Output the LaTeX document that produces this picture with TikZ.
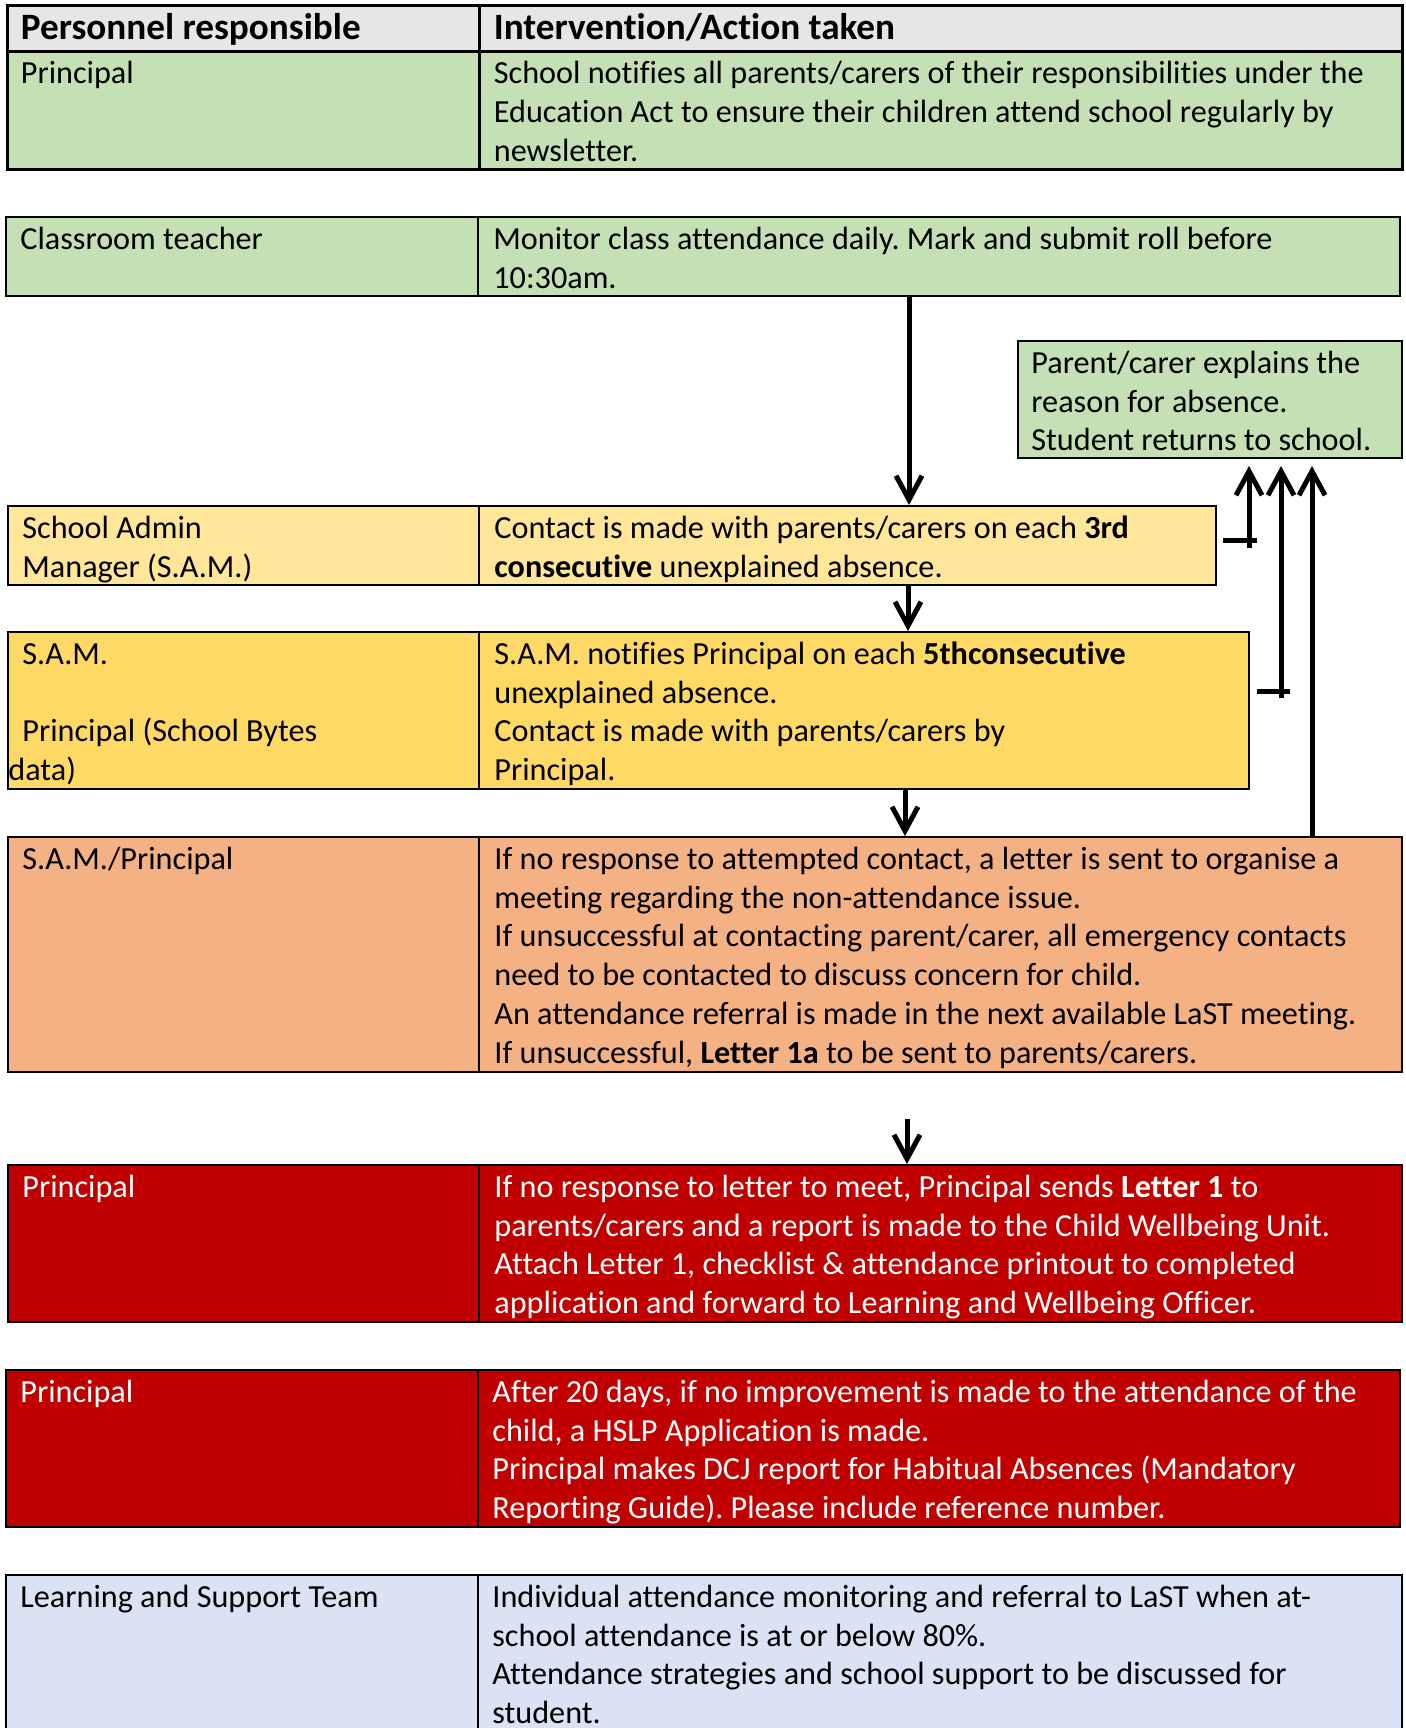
\documentclass[tikz,border=0pt]{standalone}
\usepackage{fontspec}
\setmainfont{Carlito}[Ligatures=NoCommon]
\usetikzlibrary{arrows.meta,fit}
\definecolor{hdgray}{HTML}{E7E6E6}
\definecolor{lgreen}{HTML}{C5E0B4}
\definecolor{lyellow}{HTML}{FFE699}
\definecolor{dyellow}{HTML}{FFD966}
\definecolor{lorange}{HTML}{F4B183}
\definecolor{dred}{HTML}{C00000}
\definecolor{lblue}{HTML}{DAE3F3}
\frenchspacing
\newcommand\cellrows[1]{\begin{tabular}[t]{@{}l@{}}#1\end{tabular}}

\begin{document}
\begin{tikzpicture}[x=0.5pt,y=-0.5pt,
  cell/.style={draw=black,line width=1pt,inner sep=0pt},
  txt/.style={anchor=base west,inner sep=0pt,font=\fontsize{16.1}{19.35}\selectfont},
  hdtxt/.style={txt,font=\fontsize{18.6}{22}\selectfont\bfseries},
  flow/.style={line width=2.5pt,-{Straight Barb[length=12pt,width=13pt]}},
  bar/.style={line width=2.5pt}]
\useasboundingbox (0,0) rectangle (1406,1728);
\clip (0,0) rectangle (1406,1728);

\node[cell,fill=hdgray,line width=1.5pt,fit={(7,6)(479,52)}] (hdL) {};
\node[cell,fill=hdgray,line width=1.5pt,fit={(479,6)(1402,52)}] (hdR) {};
\node[hdtxt] (hdLt) at ([shift={(15,35)}]hdL.north west) {Personnel responsible};
\node[hdtxt] (hdRt) at ([shift={(16,35)}]hdR.north west) {Intervention/Action taken};

\node[cell,fill=lgreen,line width=1.5pt,fit={(7,52)(479,170)}] (p1L) {};
\node[cell,fill=lgreen,line width=1.5pt,fit={(479,52)(1402,170)}] (p1R) {};
\node[txt] (p1Lt) at ([shift={(15,33.5)}]p1L.north west) {Principal};
\node[txt] (p1Rt) at ([shift={(16,33.5)}]p1R.north west) {\cellrows{School notifies all parents/carers of their responsibilities under the\\Education Act to ensure their children attend school regularly by\\newsletter.}};

\node[cell,fill=lgreen,fit={(6,217)(478,296)}] (ctL) {};
\node[cell,fill=lgreen,fit={(478,217)(1400,296)}] (ctR) {};
\node[txt] (ctLt) at ([shift={(15,33.5)}]ctL.north west) {Classroom teacher};
\node[txt] (ctRt) at ([shift={(16,33.5)}]ctR.north west) {\cellrows{Monitor class attendance daily. Mark and submit roll before\\10:30am.}};

\node[cell,fill=lgreen,fit={(1018,341)(1402,458)}] (par) {};
\node[txt] (part) at ([shift={(14,33.5)}]par.north west) {\cellrows{Parent/carer explains the\\reason for absence.\\Student returns to school.}};

\node[cell,fill=lyellow,fit={(8,506)(479,585)}] (samL) {};
\node[cell,fill=lyellow,fit={(479,506)(1216,585)}] (samR) {};
\node[txt] (samLt) at ([shift={(15,33.5)}]samL.north west) {\cellrows{School Admin\\Manager (S.A.M.)}};
\node[txt] (samRt) at ([shift={(16,33.5)}]samR.north west) {\cellrows{Contact is made with parents/carers on each \textbf{3rd}\\\textbf{consecutive} unexplained absence.}};

\node[cell,fill=dyellow,fit={(8,632)(479,789)}] (smL) {};
\node[cell,fill=dyellow,fit={(479,632)(1249,789)}] (smR) {};
\node[txt] (smLt) at ([shift={(15,33.5)}]smL.north west) {\cellrows{S.A.M.\\ \\Principal (School Bytes\\\hspace*{-7pt}data)}};
\node[txt] (smRt) at ([shift={(16,33.5)}]smR.north west) {\cellrows{S.A.M. notifies Principal on each \textbf{5thconsecutive}\\unexplained absence.\\Contact is made with parents/carers by\\Principal.}};

\node[cell,fill=lorange,fit={(8,837)(479,1072)}] (orL) {};
\node[cell,fill=lorange,fit={(479,837)(1402,1072)}] (orR) {};
\node[txt] (orLt) at ([shift={(15,33.5)}]orL.north west) {S.A.M./Principal};
\node[txt] (orRt) at ([shift={(16,33.5)}]orR.north west) {\cellrows{If no response to attempted contact, a letter is sent to organise a\\meeting regarding the non-attendance issue.\\If unsuccessful at contacting parent/carer, all emergency contacts\\need to be contacted to discuss concern for child.\\An attendance referral is made in the next available LaST meeting.\\If unsuccessful, \textbf{Letter 1a} to be sent to parents/carers.}};

\node[cell,fill=dred,fit={(8,1165)(479,1322)}] (r1L) {};
\node[cell,fill=dred,fit={(479,1165)(1402,1322)}] (r1R) {};
\node[txt,text=white] (r1Lt) at ([shift={(15,33.5)}]r1L.north west) {Principal};
\node[txt,text=white] (r1Rt) at ([shift={(16,33.5)}]r1R.north west) {\cellrows{If no response to letter to meet, Principal sends \textbf{Letter 1} to\\parents/carers and a report is made to the Child Wellbeing Unit.\\Attach Letter 1, checklist \& attendance printout to completed\\application and forward to Learning and Wellbeing Officer.}};

\node[cell,fill=dred,fit={(6,1370)(478,1527)}] (r2L) {};
\node[cell,fill=dred,fit={(478,1370)(1400,1527)}] (r2R) {};
\node[txt,text=white] (r2Lt) at ([shift={(15,33.5)}]r2L.north west) {Principal};
\node[txt,text=white] (r2Rt) at ([shift={(15,33.5)}]r2R.north west) {\cellrows{After 20 days, if no improvement is made to the attendance of the\\child, a HSLP Application is made.\\Principal makes DCJ report for Habitual Absences (Mandatory\\Reporting Guide). Please include reference number.}};

\node[cell,fill=lblue,fit={(6,1575)(478,1740)}] (lsL) {};
\node[cell,fill=lblue,fit={(478,1575)(1402,1740)}] (lsR) {};
\node[txt] (lsLt) at ([shift={(15,33.5)}]lsL.north west) {Learning and Support Team};
\node[txt] (lsRt) at ([shift={(15,33.5)}]lsR.north west) {\cellrows{Individual attendance monitoring and referral to LaST when at-\\school attendance is at or below 80\%.\\Attendance strategies and school support to be discussed for\\student.}};

\coordinate (aX) at (909,0);
\coordinate (bX) at (908,0);
\coordinate (cX) at (905,0);
\coordinate (dTop) at (907,1119);
\coordinate (tipY) at (0,466);
\coordinate (eT) at (1249,540);
\coordinate (fT) at (1281,691);
\coordinate (gX) at (1312,0);

\draw[flow] (ctR.south -| aX) -- (samR.north -| aX);
\draw[flow] (samR.south -| bX) -- (smR.north -| bX);
\draw[flow] (smR.south -| cX) -- (orR.north -| cX);
\draw[flow] (dTop) -- (r1R.north -| dTop);

\draw[bar] ([xshift=-13pt]eT) -- ([xshift=4pt]eT);
\draw[flow] ([yshift=-4pt]eT) -- (eT |- tipY);
\draw[bar] ([xshift=-12pt]fT) -- ([xshift=4.5pt]fT);
\draw[flow] ([yshift=-3.5pt]fT) -- (fT |- tipY);
\draw[flow] (orR.north -| gX) -- (gX |- tipY);
\end{tikzpicture}
\end{document}
